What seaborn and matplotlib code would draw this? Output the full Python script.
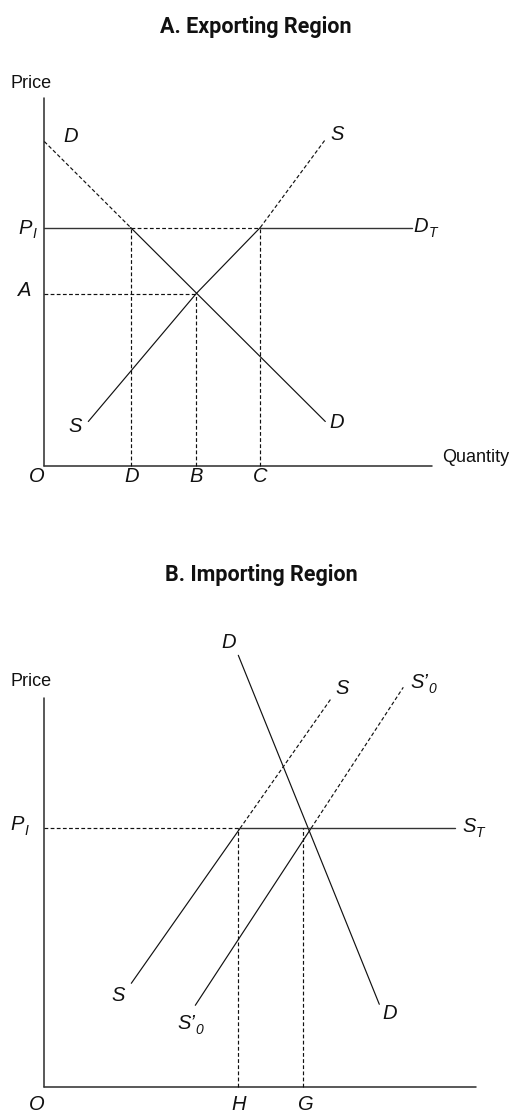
import matplotlib
matplotlib.use("Agg")
import matplotlib.pyplot as plt
import seaborn as sns

sns.set_theme(style="white")
plt.rcParams["font.family"] = ["Liberation Sans", "DejaVu Sans"]

# ---- Panel A: exporting region (quantity, price) ----
a_title = "A. Exporting Region"
a_axis_top = 36.75
a_axis_right = 38.8
a_price_int = 23.8          # P_I
a_price_aut = 17.2          # A
a_qty_labels = ["O", "D", "B", "C"]
a_qty_values = [0.0, 8.7, 15.2, 21.6]
a_demand_q = [0.0, 28.1]
a_demand_p = [32.4, 4.4]
a_supply_q = [4.4, 15.2, 21.6, 28.07]
a_supply_p = [4.4, 17.2, 23.8, 32.55]
a_dt_end = 36.8

# ---- Panel B: importing region ----
b_title = "B. Importing Region"
b_axis_top = 38.9
b_axis_right = 43.2
b_price_int = 25.9          # P_I
b_qty_labels = ["O", "H", "G"]
b_qty_values = [0.0, 19.4, 25.9]
b_demand_q = [19.4, 33.5]
b_demand_p = [43.2, 8.3]
b_supply_q = [8.7, 28.7]
b_supply_p = [10.4, 38.9]
b_supply0_q = [15.1, 35.9]
b_supply0_p = [8.2, 40.0]
b_st_end = 41.1

INK = "#111111"
AXIS = "#333333"
DASH = (0, (3.2, 2.0))
LBL = 14.5
SUB = 10
WORD = 13


def q_at(price, qs, ps):
    """Quantity on a straight curve at a given price."""
    return qs[0] + (price - ps[0]) * (qs[1] - qs[0]) / (ps[1] - ps[0])


def seg(ax, xs, ys, dashed=False, color=INK, lw=0.85):
    sns.lineplot(x=xs, y=ys, ax=ax, color=color, lw=lw,
                 linestyle=DASH if dashed else "-",
                 estimator=None, sort=False, legend=False)


def label(ax, x, y, s, sub=None, size=LBL, italic=True, **kw):
    t = ax.text(x, y, s, fontsize=size, ha=kw.pop("ha", "center"),
                va=kw.pop("va", "center"),
                style="italic" if italic else "normal", color=INK, **kw)
    if sub is not None:
        ax.annotate(sub, xy=(1, 0), xycoords=t, xytext=(0.3, -0.5),
                    textcoords="offset points", ha="left", va="baseline",
                    fontsize=SUB, style="italic", color=INK)
    return t


def title(ax, x, y, s):
    ax.text(x, y, s, fontsize=15.5, fontweight=600,
            family=["Roboto", "Liberation Sans", "DejaVu Sans"],
            ha="center", va="center", color=INK)


def axes_frame(ax, top, right):
    seg(ax, [0, 0], [0, top], color=AXIS, lw=1.15)
    seg(ax, [0, right], [0, 0], color=AXIS, lw=1.15)


fig = plt.figure(figsize=(5.13, 11.12), dpi=100)
ax_a = fig.add_axes([0, 592 / 1112, 1, 520 / 1112])
ax_b = fig.add_axes([0, 0, 1, 592 / 1112])
for ax in (ax_a, ax_b):
    ax.set_xlim(-4.43, 46.87)
    ax.set_axis_off()
ax_a.set_ylim(-5.45, 46.55)
ax_b.set_ylim(-2.47, 56.73)

# ---------- Panel A ----------
ax = ax_a
axes_frame(ax, a_axis_top, a_axis_right)
qd = q_at(a_price_int, a_demand_q, a_demand_p)
qe = a_qty_values[2]
qs = a_qty_values[3]

# demand: dashed above world price, solid below
seg(ax, [a_demand_q[0], qd], [a_demand_p[0], a_price_int], dashed=True)
seg(ax, [qd, a_demand_q[1]], [a_price_int, a_demand_p[1]])
# supply: solid up to the world price, dashed above it
seg(ax, a_supply_q[:3], a_supply_p[:3])
seg(ax, a_supply_q[2:], a_supply_p[2:], dashed=True)
# world price line D_T
seg(ax, [0, qd], [a_price_int] * 2, color=AXIS, lw=1.0)
seg(ax, [qd, qs], [a_price_int] * 2, dashed=True)
seg(ax, [qs, a_dt_end], [a_price_int] * 2, color=AXIS, lw=1.0)
# autarky price and quantity guides
seg(ax, [0, qe], [a_price_aut] * 2, dashed=True)
seg(ax, [qd, qd], [0, a_price_int], dashed=True)
seg(ax, [qe, qe], [0, a_price_aut], dashed=True)
seg(ax, [qs, qs], [0, a_price_int], dashed=True)

title(ax, 21.17, 43.9, a_title)
label(ax, -1.33, 38.25, "Price", italic=False, size=WORD)
label(ax, 39.77, 0.75, "Quantity", italic=False, size=WORD, ha="left")
label(ax, 2.67, 32.95, "D")
label(ax, 29.27, 33.05, "S")
label(ax, 3.07, 3.88, "S")
label(ax, 29.27, 4.25, "D")
label(ax, -1.93, 23.75, "P", sub="I")
label(ax, -1.98, 17.55, "A")
label(ax, 37.67, 23.88, "D", sub="T")
for name, q in zip(a_qty_labels, a_qty_values):
    label(ax, q - (0.76 if name == "O" else 0), -1.12, name)

# ---------- Panel B ----------
ax = ax_b
axes_frame(ax, b_axis_top, b_axis_right)
qh = q_at(b_price_int, b_supply_q, b_supply_p)
qg = q_at(b_price_int, b_supply0_q, b_supply0_p)

seg(ax, b_demand_q, b_demand_p)
seg(ax, [b_supply_q[0], qh], [b_supply_p[0], b_price_int])
seg(ax, [qh, b_supply_q[1]], [b_price_int, b_supply_p[1]], dashed=True)
seg(ax, [b_supply0_q[0], qg], [b_supply0_p[0], b_price_int])
seg(ax, [qg, b_supply0_q[1]], [b_price_int, b_supply0_p[1]], dashed=True)
seg(ax, [0, qh], [b_price_int] * 2, dashed=True)
seg(ax, [qh, b_st_end], [b_price_int] * 2, color=AXIS, lw=1.0)
seg(ax, [b_qty_values[1]] * 2, [0, b_price_int], dashed=True)
seg(ax, [b_qty_values[2]] * 2, [0, b_price_int], dashed=True)

title(ax, 21.72, 51.23, b_title)
label(ax, -1.33, 40.63, "Price", italic=False, size=WORD)
label(ax, 18.47, 44.46, "D")
label(ax, 29.77, 39.93, "S")
label(ax, 37.47, 40.43, "S\u2019", sub="0")
label(ax, -2.68, 26.23, "P", sub="I")
label(ax, 42.47, 26.06, "S", sub="T")
label(ax, 7.42, 9.15, "S")
label(ax, 14.22, 6.36, "S\u2019", sub="0")
label(ax, 34.52, 7.4, "D")
for name, q in zip(b_qty_labels, b_qty_values):
    label(ax, q - (0.76 if name == "O" else 0) + (0.3 if name == "G" else 0),
          -1.67, name)

fig.savefig("out.png", dpi=100, facecolor="white")
